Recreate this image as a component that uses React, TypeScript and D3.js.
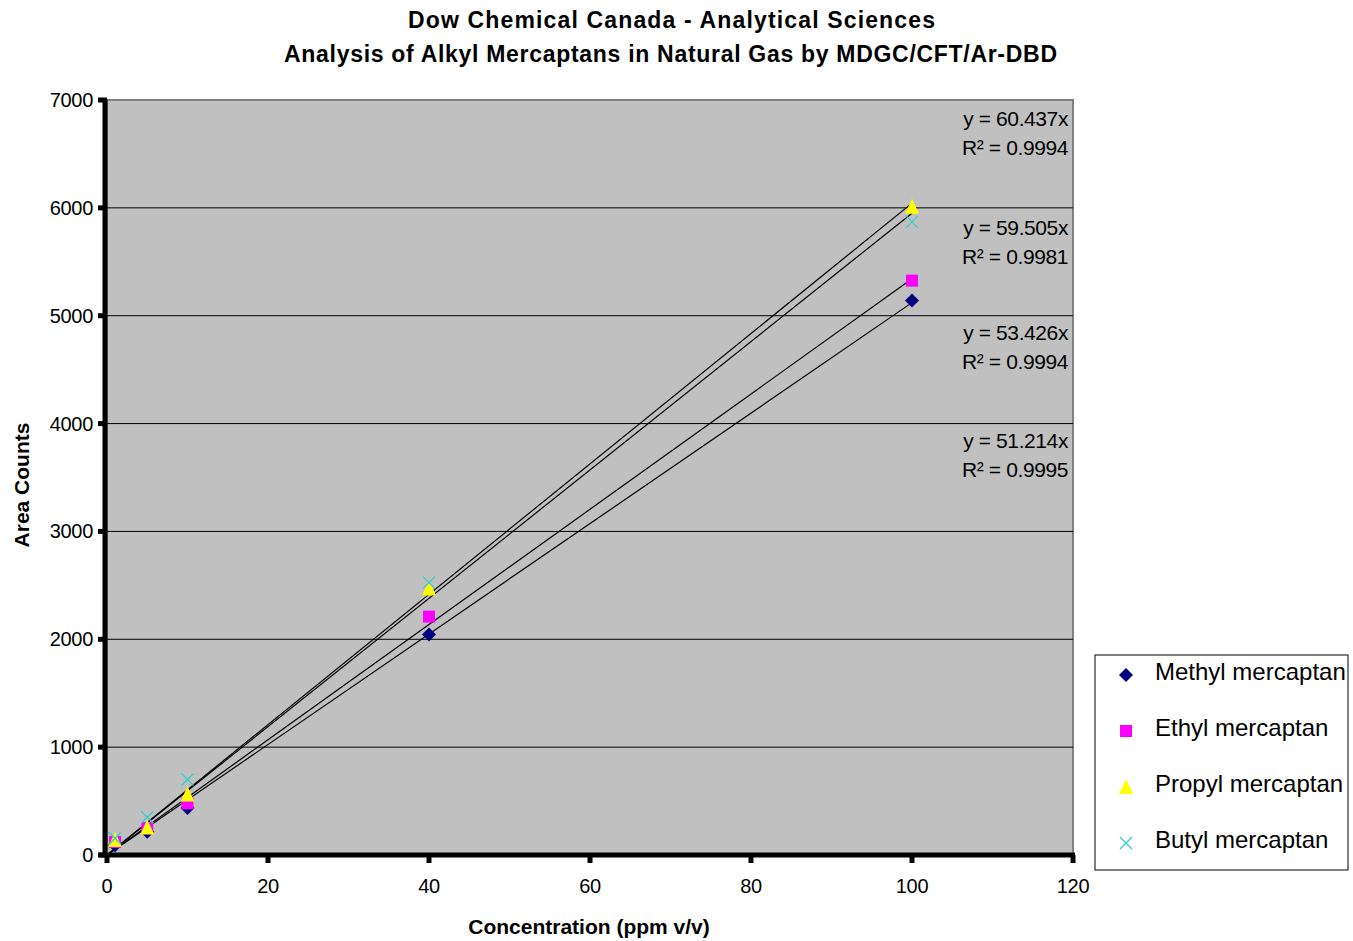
import React from "react";
import * as d3 from "d3";

const concentrations = [1, 5, 10, 40, 100];
const methyl = [90, 215, 435, 2045, 5140];
const ethyl = [120, 250, 480, 2210, 5325];
const propyl = [140, 255, 560, 2470, 6010];
const butyl = [155, 350, 700, 2525, 5870];

const seriesNames = ["Methyl mercaptan", "Ethyl mercaptan", "Propyl mercaptan", "Butyl mercaptan"];
const seriesValues = [methyl, ethyl, propyl, butyl];
const seriesColors = ["#000080", "#FF00FF", "#FFFF00", "#33CCCC"];
const seriesShapes = ["diamond", "square", "triangle", "x"];

const trendSlopes = [51.214, 53.426, 60.437, 59.505];
const trendR2 = ["0.9995", "0.9994", "0.9994", "0.9981"];
// label order top to bottom
const labelOrder = [2, 3, 1, 0];
const labelTops = [119, 228, 333, 441];

const xTicks = [0, 20, 40, 60, 80, 100, 120];
const yTicks = [0, 1000, 2000, 3000, 4000, 5000, 6000, 7000];

const W = 1353, H = 941;
const left = 107, right = 1073, top = 100, bottom = 855;

const FONT = "'Liberation Sans', Arial, sans-serif";

function Marker({ shape, x, y, color }: { shape: string; x: number; y: number; color: string }) {
  if (shape === "diamond") {
    const s = 7;
    return <path d={`M${x},${y - s}L${x + s},${y}L${x},${y + s}L${x - s},${y}Z`} fill={color} />;
  }
  if (shape === "square") {
    const s = 6;
    return <rect x={x - s} y={y - s} width={2 * s} height={2 * s} fill={color} />;
  }
  if (shape === "triangle") {
    const s = 7;
    return <path d={`M${x},${y - s - 1}L${x + s},${y + s}L${x - s},${y + s}Z`} fill={color} />;
  }
  const s = 6;
  return (
    <path d={`M${x - s},${y - s}L${x + s},${y + s}M${x - s},${y + s}L${x + s},${y - s}`} stroke={color} strokeWidth={1.3} fill="none" />
  );
}

export default function App() {
  const x = d3.scaleLinear().domain([0, 120]).range([left, right]);
  const y = d3.scaleLinear().domain([0, 7000]).range([bottom, top]);

  return (
    <svg width={W} height={H} style={{ position: "absolute", left: 0, top: 0, background: "#fff" }} fontFamily={FONT}>
      <rect x={0} y={0} width={W} height={H} fill="#fff" />
      {/* title */}
      <text x={408} y={28} fontSize={23} fontWeight="bold" textLength={527} lengthAdjust="spacing">
        Dow Chemical Canada - Analytical Sciences
      </text>
      <text x={284} y={62} fontSize={23} fontWeight="bold" textLength={773} lengthAdjust="spacing">
        Analysis of Alkyl Mercaptans in Natural Gas by MDGC/CFT/Ar-DBD
      </text>

      {/* plot area */}
      <rect x={left} y={top} width={right - left} height={bottom - top} fill="#C0C0C0" stroke="#808080" strokeWidth={2} />
      {yTicks.filter((t) => t > 0 && t < 7000).map((t) => (
        <line key={t} x1={left} x2={right} y1={y(t)} y2={y(t)} stroke="#000" strokeWidth={1} />
      ))}

      {/* trendlines */}
      {trendSlopes.map((m, i) => (
        <line key={i} x1={x(0)} y1={y(0)} x2={x(100)} y2={y(m * 100)} stroke="#000" strokeWidth={1.2} />
      ))}

      {/* points */}
      {seriesValues.map((vals, si) =>
        vals.map((v, j) => (
          <Marker key={`${si}-${j}`} shape={seriesShapes[si]} x={x(concentrations[j])} y={y(v)} color={seriesColors[si]} />
        ))
      )}

      {/* equation labels */}
      {labelOrder.map((si, k) => (
        <g key={si} fontSize={21} letterSpacing={-0.4}>
          <text x={1068} y={labelTops[k] + 7} textAnchor="end">
            {`y = ${trendSlopes[si].toFixed(3)}x`}
          </text>
          <text x={1068} y={labelTops[k] + 36} textAnchor="end">
            {`R² = ${trendR2[si]}`}
          </text>
        </g>
      ))}

      {/* axes */}
      <line x1={left - 2} x2={left - 2} y1={top - 1} y2={bottom + 2} stroke="#000" strokeWidth={5} />
      <line x1={left - 8} x2={right + 2} y1={bottom} y2={bottom} stroke="#000" strokeWidth={5} />
      {yTicks.map((t) => (
        <g key={t}>
          <line x1={left - 9} x2={left} y1={y(t)} y2={y(t)} stroke="#000" strokeWidth={5} />
          <text x={93} y={y(t) + 7} textAnchor="end" fontSize={20} letterSpacing={-0.3}>{t}</text>
        </g>
      ))}
      {xTicks.map((t) => (
        <g key={t}>
          <line x1={x(t)} x2={x(t)} y1={bottom} y2={bottom + 8} stroke="#000" strokeWidth={5} />
          <text x={x(t)} y={893} textAnchor="middle" fontSize={20} letterSpacing={-0.3}>{t}</text>
        </g>
      ))}

      {/* axis titles */}
      <text x={589} y={934} textAnchor="middle" fontSize={21} fontWeight="bold">
        Concentration (ppm v/v)
      </text>
      <text transform="translate(29,485) rotate(-90)" textAnchor="middle" fontSize={21} fontWeight="bold">
        Area Counts
      </text>

      {/* legend */}
      <rect x={1095} y={655} width={253} height={215} fill="#fff" stroke="#000" strokeWidth={1} />
      {seriesNames.map((n, i) => (
        <g key={n}>
          <Marker shape={seriesShapes[i]} x={1126} y={675 + i * 56} color={seriesColors[i]} />
          <text x={1155} y={680 + i * 56} fontSize={24}>{n}</text>
        </g>
      ))}
    </svg>
  );
}
